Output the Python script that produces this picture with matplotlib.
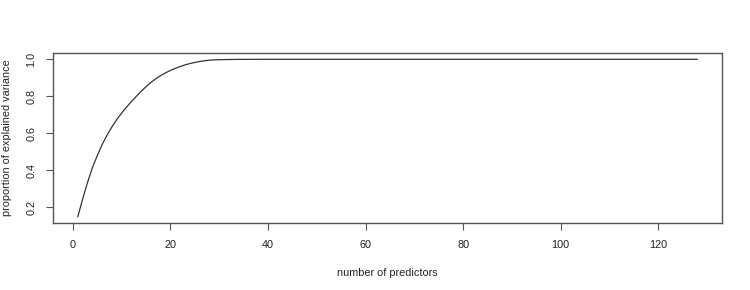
import matplotlib
matplotlib.use("Agg")
import matplotlib.pyplot as plt

plt.rcParams['font.family'] = ['Liberation Sans', 'DejaVu Sans']

head_values = [0.150, 0.245, 0.335, 0.415, 0.480, 0.540, 0.590, 0.635, 0.675, 0.710,
               0.742, 0.772, 0.800, 0.828, 0.852, 0.875, 0.895, 0.912, 0.927, 0.940,
               0.951, 0.961, 0.970, 0.977, 0.983, 0.988, 0.992, 0.995, 0.997, 0.998,
               0.9985, 0.999, 0.9993, 0.9995, 0.9997, 0.9998, 0.9999]
tail_values = [1.0] * (128 - len(head_values))
explained = head_values + tail_values
n_predictors = list(range(1, len(explained) + 1))

x_ticks = [0, 20, 40, 60, 80, 100, 120]
y_ticks = [0.2, 0.4, 0.6, 0.8, 1.0]
x_label = "number of predictors"
y_label = "proportion of explained variance"

fig = plt.figure(figsize=(7.5, 2.9), dpi=100)
ax = fig.add_axes([53/750, 1 - 223/290, (722-53)/750, (223-53)/290])
ax.plot(n_predictors, explained, color='#333333', lw=0.9)

xmin, xmax = min(n_predictors), max(n_predictors)
ymin, ymax = min(explained), max(explained)
ax.set_xlim(xmin - 0.04*(xmax-xmin), xmax + 0.04*(xmax-xmin))
ax.set_ylim(ymin - 0.04*(ymax-ymin), ymax + 0.04*(ymax-ymin))

ax.set_xticks(x_ticks)
ax.set_xticklabels([str(t) for t in x_ticks])
ax.set_yticks(y_ticks)
ax.set_yticklabels([f"{t:.1f}" for t in y_ticks], rotation=90, va='center')

for s in ax.spines.values():
    s.set_color('#555555')
    s.set_linewidth(1.0)
ax.tick_params(axis='both', length=5, width=0.8, color='#555555', labelsize=7.8,
               labelcolor='#222222', pad=7)

ax.set_xlabel(x_label, fontsize=7.8, color='#222222', labelpad=13)
ax.set_ylabel(y_label, fontsize=7.8, color='#222222', labelpad=10)

fig.savefig("out.png", dpi=100)
